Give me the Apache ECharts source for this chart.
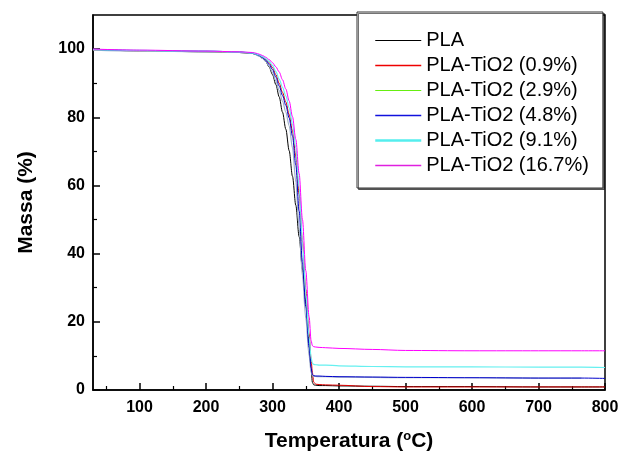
<!DOCTYPE html>
<html>
<head>
<meta charset="utf-8">
<script src="https://cdn.jsdelivr.net/npm/echarts@6/dist/echarts.min.js"></script>
<style>
html,body{margin:0;padding:0;background:#fff;}
#chart{width:620px;height:452px;}
</style>
</head>
<body>
<div id="chart"></div>
<script>
// ---- data ----
var temps = [30, 100, 200, 250, 270, 275, 280, 285, 290, 295, 300, 305, 310, 315, 320, 325, 330, 335, 340, 345, 350, 355, 358, 360, 362, 365, 370, 380, 400, 450, 500, 600, 700, 765, 800];
var seriesNames = ['PLA', 'PLA-TiO2 (0.9%)', 'PLA-TiO2 (2.9%)', 'PLA-TiO2 (4.8%)', 'PLA-TiO2 (9.1%)', 'PLA-TiO2 (16.7%)'];
var massPLA   = [99.8, 99.5, 99.2, 99.0, 98.7, 98.4, 98.0, 97.3, 96.3, 94.7, 92.5, 89.6, 86.0, 81.5, 76.5, 70.2, 62.7, 54.2, 45.0, 35.5, 25.5, 13.9, 6.0, 2.2, 1.5, 1.4, 1.3, 1.3, 1.2, 1.1, 1.0, 1.0, 0.9, 0.9, 0.9];
var massTi09  = [99.8, 99.5, 99.3, 99.1, 98.8, 98.5, 98.2, 97.7, 97.0, 96.0, 94.6, 92.5, 90.0, 87.3, 84.5, 80.8, 76.0, 68.5, 57.5, 43.5, 29.5, 16.5, 9.0, 5.0, 2.3, 1.7, 1.6, 1.5, 1.4, 1.0, 0.9, 0.9, 0.9, 0.9, 0.9];
var massTi29  = [99.7, 99.4, 99.2, 99.0, 98.7, 98.4, 97.9, 97.3, 96.4, 95.0, 93.2, 90.7, 87.8, 84.7, 81.5, 77.5, 71.0, 61.0, 47.5, 33.5, 21.0, 10.0, 5.2, 4.2, 4.0, 4.0, 3.9, 3.9, 3.8, 3.7, 3.6, 3.6, 3.5, 3.5, null];
var massTi48  = [99.9, 99.6, 99.4, 99.2, 98.8, 98.5, 98.1, 97.5, 96.7, 95.5, 94.0, 91.8, 89.2, 86.4, 83.5, 79.8, 74.5, 66.0, 52.5, 37.5, 24.5, 12.5, 6.5, 4.5, 4.2, 4.1, 4.1, 4.0, 3.9, 3.8, 3.7, 3.6, 3.5, 3.5, 3.4];
var massTi91  = [99.9, 99.6, 99.4, 99.2, 98.9, 98.6, 98.3, 97.8, 97.2, 96.3, 95.2, 93.4, 91.2, 88.8, 86.3, 82.8, 78.0, 71.0, 59.5, 43.5, 28.5, 15.5, 9.5, 7.8, 7.5, 7.4, 7.3, 7.3, 7.1, 6.9, 6.8, 6.8, 6.7, 6.7, 6.6];
var massTi167 = [100.0, 99.7, 99.4, 99.2, 99.0, 98.8, 98.5, 98.1, 97.6, 96.9, 96.0, 94.8, 93.3, 91.0, 88.3, 84.8, 80.2, 73.5, 63.5, 50.0, 35.0, 21.5, 14.5, 13.0, 12.7, 12.6, 12.5, 12.4, 12.2, 11.9, 11.6, 11.5, 11.5, 11.5, 11.5];
var xTicks = [100, 200, 300, 400, 500, 600, 700, 800];
var xMinorTicks = [50, 150, 250, 350, 450, 550, 650, 750];
var yTicks = [0, 20, 40, 60, 80, 100];
var yMinorTicks = [10, 30, 50, 70, 90];

var allMass = [massPLA, massTi09, massTi29, massTi48, massTi91, massTi167];
var lineColors = ['#000000', '#e00000', '#9fb0c8', '#0000cc', '#66f0f0', '#ff00ff'];
var legendColors = ['#000000', '#ee0000', '#66ee11', '#1111dd', '#55eeee', '#e020e0'];
var lineWidths = [1, 1, 1.2, 1, 1.2, 1];
var legendWidths = [1, 1.5, 1.2, 1.5, 2.5, 1.5];

var FONT = 'Liberation Sans, Arial, Helvetica, sans-serif';

function pairs(vals) {
  var out = [];
  for (var i = 0; i < temps.length; i++) out.push([temps[i], vals[i]]);
  return out;
}

var series = seriesNames.map(function (n, i) {
  return {
    name: n,
    type: 'line',
    xAxisIndex: 0,
    yAxisIndex: 0,
    data: pairs(allMass[i]),
    symbol: 'none',
    showSymbol: false,
    smooth: 0.3,
    smoothMonotone: 'x',
    connectNulls: false,
    color: lineColors[i],
    lineStyle: { color: lineColors[i], width: lineWidths[i] },
    animation: false
  };
});

var chart = echarts.init(document.getElementById('chart'), null, { renderer: 'canvas' });
chart.setOption({
  animation: false,
  backgroundColor: '#ffffff',
  grid: {
    left: 93, right: 15, top: 15, bottom: 62,
    outerBoundsMode: 'none',
    containLabel: false,
    show: true, borderColor: '#000', borderWidth: 1.5, backgroundColor: 'transparent'
  },
  legend: {
    orient: 'vertical',
    left: 357, top: 12,
    backgroundColor: '#ffffff',
    borderColor: '#333333',
    borderWidth: 1,
    shadowColor: 'rgba(0,0,0,0.55)',
    shadowBlur: 0,
    shadowOffsetX: 1.5,
    shadowOffsetY: 1.5,
    padding: [18, 14, 12, 17],
    itemWidth: 46,
    itemHeight: 21,
    itemGap: 4,
    z: 10,
    selectedMode: false,
    textStyle: { fontFamily: FONT, fontSize: 20, color: '#000', lineHeight: 21 },
    data: seriesNames.map(function (n, i) {
      return {
        name: n,
        itemStyle: { opacity: 0, color: 'rgba(0,0,0,0)', borderWidth: 0 },
        lineStyle: { color: legendColors[i], width: legendWidths[i] }
      };
    })
  },
  xAxis: [{
    type: 'value',
    min: 30, max: 800,
    position: 'bottom',
    name: 'Temperatura ({sup|o}C)',
    nameLocation: 'middle',
    nameGap: 40,
    nameTextStyle: {
      fontFamily: FONT, fontSize: 21, fontWeight: 'bold', color: '#000',
      rich: { sup: { fontFamily: FONT, fontSize: 13, fontWeight: 'bold', color: '#000', verticalAlign: 'top', padding: [0, 0, 10, 0] } }
    },
    axisLine: { show: true, lineStyle: { color: '#000', width: 1.5 } },
    axisTick: { show: true, inside: true, length: 7, customValues: xTicks, lineStyle: { color: '#000', width: 1.5 } },
    axisLabel: { show: true, customValues: xTicks, margin: 10, fontFamily: FONT, fontSize: 16, fontWeight: 'bold', color: '#000' },
    splitLine: { show: false }
  }, {
    type: 'value',
    min: 30, max: 800,
    position: 'bottom',
    gridIndex: 0,
    axisLine: { show: false },
    axisTick: { show: true, inside: true, length: 4, customValues: xMinorTicks, lineStyle: { color: '#000', width: 1.2 } },
    axisLabel: { show: false },
    splitLine: { show: false }
  }],
  yAxis: [{
    type: 'value',
    min: 0, max: 110,
    position: 'left',
    name: 'Massa (%)',
    nameLocation: 'middle',
    nameGap: 56,
    nameTextStyle: { fontFamily: FONT, fontSize: 21, fontWeight: 'bold', color: '#000' },
    axisLine: { show: true, lineStyle: { color: '#000', width: 1.5 } },
    axisTick: { show: true, inside: true, length: 7, customValues: yTicks, lineStyle: { color: '#000', width: 1.5 } },
    axisLabel: { show: true, customValues: yTicks, margin: 8, fontFamily: FONT, fontSize: 16, fontWeight: 'bold', color: '#000' },
    splitLine: { show: false }
  }, {
    type: 'value',
    min: 0, max: 110,
    position: 'left',
    gridIndex: 0,
    axisLine: { show: false },
    axisTick: { show: true, inside: true, length: 4, customValues: yMinorTicks, lineStyle: { color: '#000', width: 1.2 } },
    axisLabel: { show: false },
    splitLine: { show: false }
  }],
  series: series
});
</script>
</body>
</html>
